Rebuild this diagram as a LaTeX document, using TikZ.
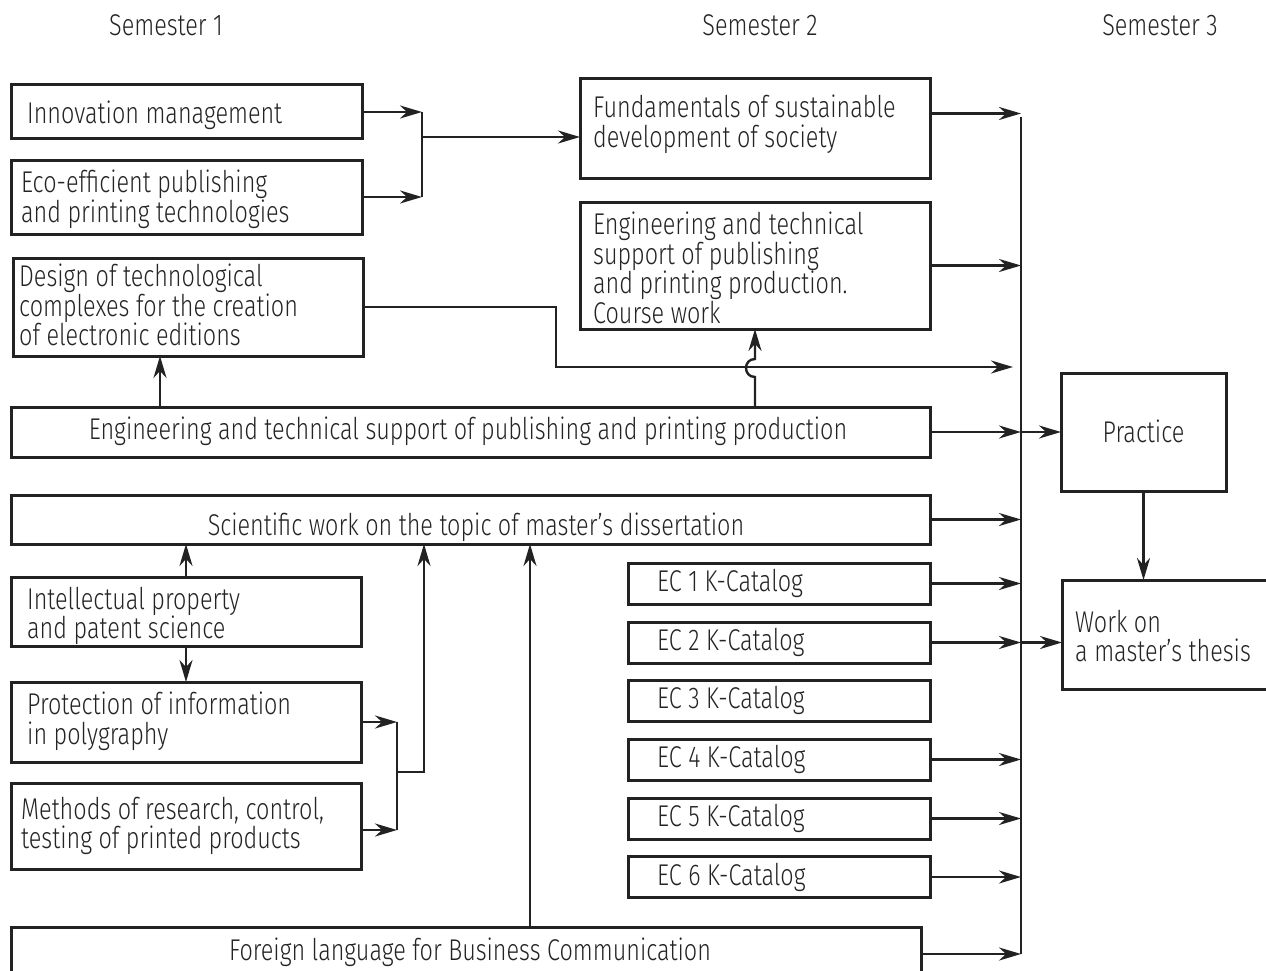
\documentclass[tikz,border=0pt]{standalone}
\usepackage{fontspec}
\setmainfont{Fira Sans Light}[FakeStretch=0.78]
\usetikzlibrary{arrows.meta,calc}
\definecolor{ink}{HTML}{222222}
\definecolor{txtc}{HTML}{242424}
\begin{document}
\begin{tikzpicture}[x=1pt,y=-1pt,
  box/.style={draw=ink, line width=3pt, inner sep=0pt, outer sep=0pt},
  txt/.style={inner sep=0pt, anchor=north west, align=left, text=txtc,
    font=\fontsize{30}{29.5}\selectfont},
  ctxt/.style={inner sep=0pt, anchor=base, text=txtc, font=\fontsize{30}{29.5}\selectfont},
  ln/.style={draw=ink, line width=2.4pt},
  arr/.style={draw=ink, line width=2.4pt, -{Stealth[length=22pt,width=13pt,inset=7pt]}}]
\useasboundingbox[fill=white] (0,0) rectangle (1266,971);

% semester headers
\node[ctxt] (s1) at (166,36) {Semester 1};
\node[ctxt] (s2) at (760,36) {Semester 2};
\node[ctxt] (s3) at (1160,36) {Semester 3};

% boxes
\node[box, minimum width=351, minimum height=54] (innov) at (186.5,112) {};
\node[box, minimum width=351, minimum height=74] (eco) at (186.5,197) {};
\node[box, minimum width=350, minimum height=98] (design) at (188,307) {};
\node[box, minimum width=350, minimum height=99] (fund) at (755,128.5) {};
\node[box, minimum width=350, minimum height=127] (engc) at (755,265.5) {};
\node[box, minimum width=919, minimum height=50] (engm) at (470.5,432) {};
\node[box, minimum width=919, minimum height=49] (sci) at (470.5,519.5) {};
\node[box, minimum width=350, minimum height=69] (intel) at (186,611.5) {};
\node[box, minimum width=350, minimum height=80] (prot) at (186,722) {};
\node[box, minimum width=350, minimum height=86] (meth) at (186,826) {};
\node[box, minimum width=302, minimum height=41] (ec1) at (779,583.5) {};
\node[box, minimum width=302, minimum height=41] (ec2) at (779,642.5) {};
\node[box, minimum width=302, minimum height=41] (ec3) at (779,700.5) {};
\node[box, minimum width=302, minimum height=41] (ec4) at (779,759.5) {};
\node[box, minimum width=302, minimum height=41] (ec5) at (779,818.5) {};
\node[box, minimum width=302, minimum height=41] (ec6) at (779,877) {};
\node[box, minimum width=910, minimum height=54] (foreign) at (466,954) {};
\node[box, minimum width=165, minimum height=118] (practice) at (1143.5,432) {};
\node[box, minimum width=208, minimum height=109] (work) at (1166,634.5) {};

% centred texts
\node[ctxt] (engmT) at (468,439) {Engineering and technical support of publishing and printing production};
\node[ctxt] (sciT) at (476,535) {Scientific work on the topic of master’s dissertation};
\node[ctxt] (foreignT) at (470,960) {Foreign language for Business Communication};
\node[ctxt] (practiceT) at (1143.5,442) {Practice};

% left-aligned texts
\node[txt] (innovT) at (27,101) {Innovation management};
\node[txt] (ecoT) at (21,170) {Eco-efficient publishing\\and printing technologies};
\node[txt] (designT) at (19,264) {Design of technological\\complexes for the creation\\of electronic editions};
\node[txt] (fundT) at (593,95) {Fundamentals of sustainable\\development of society};
\node[txt] (engcT) at (593,212) {Engineering and technical\\support of publishing\\and printing production.\\Course work};
\node[txt] (intelT) at (27,587) {Intellectual property\\and patent science};
\node[txt] (protT) at (27,692) {Protection of information\\in polygraphy};
\node[txt] (methT) at (21,797) {Methods of research, control,\\testing of printed products};
\node[txt, anchor=west] (ec1T) at ($(ec1.west)+(29,0)$) {EC 1 K-Catalog};
\node[txt, anchor=west] (ec2T) at ($(ec2.west)+(29,0)$) {EC 2 K-Catalog};
\node[txt, anchor=west] (ec3T) at ($(ec3.west)+(29,0)$) {EC 3 K-Catalog};
\node[txt, anchor=west] (ec4T) at ($(ec4.west)+(29,0)$) {EC 4 K-Catalog};
\node[txt, anchor=west] (ec5T) at ($(ec5.west)+(29,0)$) {EC 5 K-Catalog};
\node[txt, anchor=west] (ec6T) at ($(ec6.west)+(29,0)$) {EC 6 K-Catalog};
\node[txt] (workT) at (1075,610) {Work on\\a master’s thesis};

% junction coordinates
\coordinate (j1) at (422,112);
\coordinate (j2) at (422,197);
\coordinate (j3) at (422,137);
\coordinate (busT) at (1021,117);
\coordinate (busB) at (1021,954);
\coordinate (dr) at (556,367);
\coordinate (k1) at (397,722);
\coordinate (k2) at (397,830);
\coordinate (k3) at (397,772);
\coordinate (k4) at (424,772);
\coordinate (fx) at (530,0);

% top-left group
\draw[arr] (innov.east) -- (innov.east -| j1);
\draw[arr] (eco.east) -- (eco.east -| j1);
\draw[ln] (j1) -- (j2);
\draw[arr] (j3) -- (j3 -| fund.west);

% design route
\draw[arr] (design.east) -| (dr) -- ([xshift=-8pt]dr -| busT);
\draw[arr] ([xshift=-28pt]design.south |- engm.north) -- ([xshift=-28pt]design.south);
\draw[arr] (engm.north -| engc.south) -- (755,377)
  .. controls (743,377) and (743,359) .. (755,359) -- (engc.south);

% bus
\draw[ln] (busT) -- (busB);
\draw[arr] ([yshift=15pt]fund.east) -- ([yshift=15pt]fund.east -| busT);
\draw[arr] (engc.east) -- (engc.east -| busT);
\draw[arr] (engm.east) -- (engm.east -| busT);
\draw[arr] (engm.east -| busT) -- (practice.west);
\draw[arr] (sci.east) -- (sci.east -| busT);
\draw[arr] (ec1.east) -- (ec1.east -| busT);
\draw[arr] (ec2.east) -- (ec2.east -| busT);
\draw[arr] (ec2.east -| busT) -- (ec2.east -| work.west);
\draw[arr] (ec4.east) -- (ec4.east -| busT);
\draw[arr] (ec5.east) -- (ec5.east -| busT);
\draw[arr] (ec6.east) -- (ec6.east -| busT);
\draw[arr] (foreign.east) -- (foreign.east -| busT);
\draw[arr] (practice.south) -- (practice.south |- work.north);

% bottom-left group
\draw[arr] (intel.north) -- (intel.north |- sci.south);
\draw[arr] (intel.south) -- (prot.north);
\draw[arr] (prot.east) -- (prot.east -| k1);
\draw[arr] ([yshift=-4pt]meth.east) -- ([yshift=-4pt]meth.east -| k1);
\draw[ln] (k1) -- (k2);
\draw[arr] (k3) -| (k4 |- sci.south);
\draw[arr] (fx |- foreign.north) -- (fx |- sci.south);
\end{tikzpicture}
\end{document}
